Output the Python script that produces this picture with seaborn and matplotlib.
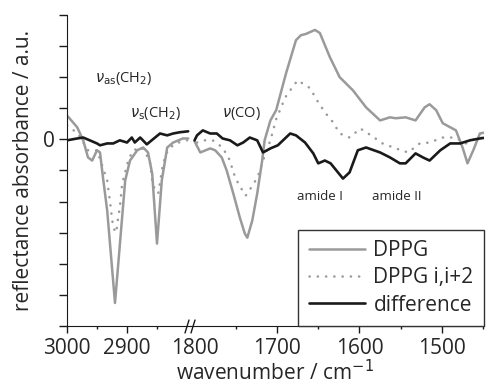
import numpy as np
import pandas as pd
import seaborn as sns
import matplotlib.pyplot as plt
from matplotlib.lines import Line2D

# CH2 region (left panel)
wn_left_dppg = [3000, 2983, 2973, 2965, 2958, 2950, 2945, 2940, 2933, 2920, 2903, 2895,
                2883, 2873, 2865, 2858, 2850, 2842, 2833, 2823, 2807, 2798]
dppg_left = [0.77, 0.39, -0.03, -0.58, -0.68, -0.35, -0.42, -1.23, -2.29, -5.26, -1.32, -0.68,
             -0.35, -0.26, -0.42, -1.10, -3.35, -1.32, -0.26, -0.10, 0.03, 0.03]

wn_left_ii2 = [3000, 2982, 2965, 2950, 2933, 2928, 2923, 2918, 2915, 2912, 2908, 2898,
               2890, 2875, 2862, 2857, 2848, 2845, 2840, 2832, 2820, 2800]
ii2_left = [0.45, 0.19, -0.35, -0.35, -1.32, -2.06, -2.84, -3.0, -2.55, -2.19, -1.42, -0.68,
            -0.35, -0.26, -0.68, -1.48, -1.74, -1.39, -0.77, -0.35, -0.13, -0.03]

wn_left_diff = [3000, 2983, 2973, 2962, 2950, 2945, 2933, 2923, 2912, 2900, 2892, 2887,
                2878, 2867, 2857, 2845, 2833, 2823, 2812, 2798]
diff_left = [-0.03, 0.03, 0.06, -0.03, -0.13, -0.19, -0.13, -0.13, -0.03, -0.10, 0.06, -0.10,
             0.06, -0.16, 0.0, 0.19, 0.13, 0.19, 0.23, 0.26]

# CO / amide region (right panel)
wn_right_dppg = [1800, 1793, 1781, 1775, 1767, 1761, 1753, 1745, 1739, 1736, 1730, 1724,
                 1718, 1715, 1708, 1701, 1689, 1677, 1671, 1665, 1654, 1648, 1636, 1624,
                 1608, 1592, 1575, 1563, 1556, 1544, 1532, 1521, 1515, 1507, 1499, 1490,
                 1483, 1475, 1469, 1462, 1454, 1446]
dppg_right = [-0.06, -0.42, -0.29, -0.35, -0.58, -1.0, -1.74, -2.52, -3.03, -3.16, -2.61, -1.74,
              -0.68, -0.03, 0.61, 0.94, 2.13, 3.19, 3.35, 3.39, 3.52, 3.42, 2.65, 2.0,
              1.58, 1.03, 0.61, 0.71, 0.68, 0.71, 0.61, 1.03, 1.13, 0.94, 0.52, 0.39,
              0.29, -0.26, -0.77, -0.35, 0.19, 0.23]

wn_right_ii2 = [1797, 1790, 1778, 1766, 1757, 1753, 1747, 1738, 1728, 1722, 1717, 1708,
                1701, 1690, 1684, 1675, 1660, 1650, 1641, 1632, 1624, 1612, 1599, 1586,
                1572, 1556, 1541, 1527, 1515, 1499, 1483, 1471, 1459, 1446]
ii2_right = [-0.10, -0.03, -0.03, -0.26, -0.68, -1.06, -1.42, -1.81, -1.42, -1.10, -0.68, -0.03,
             0.65, 1.35, 1.58, 1.90, 1.65, 1.19, 0.84, 0.55, 0.19, 0.06, 0.35, 0.13,
             -0.13, -0.29, -0.42, -0.13, -0.10, 0.06, 0.06, -0.13, 0.03, 0.06]

wn_right_diff = [1800, 1797, 1790, 1781, 1773, 1766, 1757, 1748, 1741, 1733, 1724, 1717,
                 1708, 1699, 1684, 1677, 1666, 1656, 1650, 1642, 1635, 1620, 1612, 1602,
                 1592, 1575, 1563, 1551, 1544, 1532, 1523, 1515, 1502, 1490, 1478, 1466,
                 1454, 1446]
diff_right = [-0.03, 0.13, 0.29, 0.19, 0.19, 0.03, -0.03, -0.19, -0.10, 0.06, -0.03, -0.42,
              -0.29, -0.19, 0.19, 0.13, -0.10, -0.45, -0.77, -0.68, -0.77, -1.26, -1.06, -0.35,
              -0.26, -0.42, -0.58, -0.77, -0.77, -0.45, -0.58, -0.68, -0.35, -0.13, -0.13, -0.03,
              0.03, 0.06]

labels = ['DPPG', 'DPPG i,i+2', 'difference']

sns.set_style("ticks")
plt.rcParams['font.family'] = ['Open Sans', 'DejaVu Sans']
plt.rcParams['mathtext.fontset'] = 'dejavusans'

fig = plt.figure(figsize=(4.86, 3.87), dpi=100)
ax1 = fig.add_axes([67 / 486, 61 / 387, 123 / 486, 311 / 387])
ax2 = fig.add_axes([190 / 486, 61 / 387, 294 / 486, 311 / 387])

gray = '#9a9a9a'
black = '#1a1a1a'
dot = (0, (0.1, 3.2))


def draw(ax, wns, vals, legend):
    sns.lineplot(x=wns[0], y=vals[0], ax=ax, color=gray, lw=1.8, sort=False,
                 label=labels[0] if legend else None)
    sns.lineplot(x=wns[1], y=vals[1], ax=ax, color=gray, lw=1.8, sort=False,
                 linestyle=dot, dash_capstyle='round',
                 label=labels[1] if legend else None)
    sns.lineplot(x=wns[2], y=vals[2], ax=ax, color=black, lw=1.9, sort=False,
                 label=labels[2] if legend else None)


draw(ax1, [wn_left_dppg, wn_left_ii2, wn_left_diff], [dppg_left, ii2_left, diff_left], False)
draw(ax2, [wn_right_dppg, wn_right_ii2, wn_right_diff], [dppg_right, ii2_right, diff_right], True)

for ax in (ax1, ax2):
    ax.set_ylim(-6, 4)
    ax.set_xlabel('')
    ax.set_ylabel('')
    ax.spines['top'].set_visible(False)
    ax.spines['right'].set_visible(False)
    ax.spines['bottom'].set_color(black)
    ax.tick_params(axis='x', which='major', direction='out', length=5, width=1,
                   color=black, labelsize=15, pad=4)
    ax.tick_params(axis='x', which='minor', direction='out', length=2.5, width=1, color=black)

ax1.set_xlim(3000, 2795)
ax1.set_xticks([3000, 2900])
ax1.set_xticks([2950, 2850], minor=True)
ax1.set_yticks(np.arange(-6, 5, 1))
ax1.set_yticklabels(['0' if t == 0 else '' for t in range(-6, 5)])
ax1.tick_params(axis='y', direction='out', length=6, width=1, color=black, labelsize=15, pad=3)
ax1.spines['left'].set_color(black)
ax1.set_ylabel('reflectance absorbance / a.u.', fontsize=15, labelpad=6)

ax2.set_xlim(1805.5, 1449)
ax2.set_xticks([1800, 1700, 1600, 1500])
ax2.set_xticks([1750, 1650, 1550, 1450], minor=True)
ax2.xaxis.get_major_ticks()[0].tick1line.set_visible(False)
ax2.spines['left'].set_visible(False)
ax2.set_yticks([])
ax2.patch.set_alpha(0)

fig.text(275 / 486, 1 - 373 / 387, 'wavenumber / cm$^{-1}$', ha='center', va='center', fontsize=15)

# axis break marks
for xp in (187, 193):
    fig.add_artist(Line2D([(xp - 2) / 486, (xp + 2) / 486],
                          [1 - 333 / 387, 1 - 320 / 387], color=black, lw=1))

# band labels
ax1.text(2953, 1.97, r'$\nu_{\rm as}$(CH$_2$)', fontsize=10.5, va='center', ha='left')
ax1.text(2895, 0.84, r'$\nu_{\rm s}$(CH$_2$)', fontsize=10.5, va='center', ha='left')
ax2.text(1767, 0.84, r'$\nu$(CO)', fontsize=10.5, va='center', ha='left')
ax2.text(1648, -1.84, 'amide I', fontsize=9.5, va='center', ha='center')
ax2.text(1555, -1.84, 'amide II', fontsize=9.5, va='center', ha='center')

leg = ax2.legend(loc='lower right', frameon=True, fancybox=False, framealpha=1,
                 edgecolor='#333333', fontsize=15, borderaxespad=0, handlelength=2.7,
                 handletextpad=0.4, labelspacing=0.3, borderpad=0.5)
leg.get_frame().set_linewidth(1)

fig.savefig('out.png', dpi=100)
